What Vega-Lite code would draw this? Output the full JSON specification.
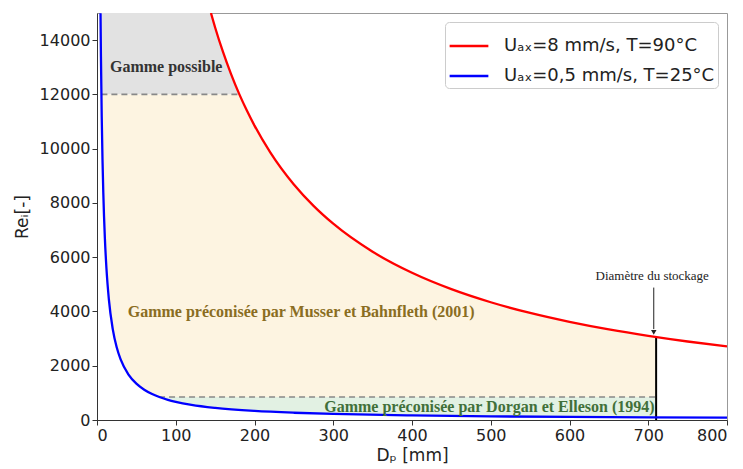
{
  "$schema": "https://vega.github.io/schema/vega-lite/v6.json",
  "width": 630,
  "height": 407,
  "autosize": {"type": "none"},
  "padding": {"left": 97, "top": 13, "right": 16, "bottom": 49},
  "background": "white",
  "config": {
    "view": {"stroke": "#999", "strokeWidth": 1},
    "font": "DejaVu Sans",
    "axis": {
      "grid": false,
      "labelFont": "DejaVu Sans",
      "labelFontSize": 16,
      "labelColor": "#222",
      "titleFont": "DejaVu Sans",
      "titleFontSize": 17,
      "titleFontWeight": "normal",
      "titleColor": "#222",
      "tickSize": 5,
      "tickColor": "#333",
      "domainColor": "#333"
    },
    "legend": {
      "orient": "top-right",
      "offset": 9,
      "strokeColor": "#ccc",
      "fillColor": "white",
      "padding": 3,
      "cornerRadius": 4,
      "labelFont": "DejaVu Sans",
      "labelFontSize": 18,
      "labelColor": "#222",
      "labelLimit": 400,
      "symbolType": "stroke",
      "symbolSize": 1500,
      "symbolStrokeWidth": 2.5,
      "rowPadding": -9,
      "labelOffset": 14
    }
  },
  "datasets": {
    "curves": [
      {"D": 4.47, "Re": 14990, "s": "blue"},
      {"D": 5, "Re": 13400, "s": "blue"},
      {"D": 6, "Re": 11167, "s": "blue"},
      {"D": 7, "Re": 9571, "s": "blue"},
      {"D": 8, "Re": 8375, "s": "blue"},
      {"D": 10, "Re": 6700, "s": "blue"},
      {"D": 12, "Re": 5583, "s": "blue"},
      {"D": 15, "Re": 4467, "s": "blue"},
      {"D": 20, "Re": 3350, "s": "blue"},
      {"D": 25, "Re": 2680, "s": "blue"},
      {"D": 30, "Re": 2233, "s": "blue"},
      {"D": 40, "Re": 1675, "s": "blue"},
      {"D": 50, "Re": 1340, "s": "blue"},
      {"D": 60, "Re": 1117, "s": "blue"},
      {"D": 70, "Re": 957, "s": "blue"},
      {"D": 80, "Re": 838, "s": "blue"},
      {"D": 90, "Re": 744, "s": "blue"},
      {"D": 100, "Re": 670, "s": "blue"},
      {"D": 120, "Re": 558, "s": "blue"},
      {"D": 150, "Re": 447, "s": "blue"},
      {"D": 200, "Re": 335, "s": "blue"},
      {"D": 250, "Re": 268, "s": "blue"},
      {"D": 300, "Re": 223, "s": "blue"},
      {"D": 400, "Re": 168, "s": "blue"},
      {"D": 500, "Re": 134, "s": "blue"},
      {"D": 600, "Re": 112, "s": "blue"},
      {"D": 700, "Re": 96, "s": "blue"},
      {"D": 800, "Re": 84, "s": "blue"},
      {"D": 144.7, "Re": 15000, "s": "red"},
      {"D": 150, "Re": 14467, "s": "red"},
      {"D": 160, "Re": 13563, "s": "red"},
      {"D": 170, "Re": 12765, "s": "red"},
      {"D": 180.8, "Re": 12000, "s": "red"},
      {"D": 190, "Re": 11421, "s": "red"},
      {"D": 200, "Re": 10850, "s": "red"},
      {"D": 220, "Re": 9864, "s": "red"},
      {"D": 250, "Re": 8680, "s": "red"},
      {"D": 275, "Re": 7891, "s": "red"},
      {"D": 300, "Re": 7233, "s": "red"},
      {"D": 350, "Re": 6200, "s": "red"},
      {"D": 400, "Re": 5425, "s": "red"},
      {"D": 450, "Re": 4822, "s": "red"},
      {"D": 500, "Re": 4340, "s": "red"},
      {"D": 550, "Re": 3945, "s": "red"},
      {"D": 600, "Re": 3617, "s": "red"},
      {"D": 650, "Re": 3338, "s": "red"},
      {"D": 700, "Re": 3100, "s": "red"},
      {"D": 750, "Re": 2893, "s": "red"},
      {"D": 800, "Re": 2713, "s": "red"}
    ],
    "gray": [
      {"D": 4.47, "lo": 14990, "hi": 15000},
      {"D": 5, "lo": 13400, "hi": 15000},
      {"D": 5.58, "lo": 12000, "hi": 15000},
      {"D": 144.7, "lo": 12000, "hi": 15000},
      {"D": 150, "lo": 12000, "hi": 14467},
      {"D": 160, "lo": 12000, "hi": 13563},
      {"D": 170, "lo": 12000, "hi": 12765},
      {"D": 180.8, "lo": 12000, "hi": 12000}
    ],
    "beige": [
      {"D": 5.58, "lo": 12000, "hi": 12000},
      {"D": 6, "lo": 11167, "hi": 12000},
      {"D": 7, "lo": 9571, "hi": 12000},
      {"D": 8, "lo": 8375, "hi": 12000},
      {"D": 10, "lo": 6700, "hi": 12000},
      {"D": 12, "lo": 5583, "hi": 12000},
      {"D": 15, "lo": 4467, "hi": 12000},
      {"D": 20, "lo": 3350, "hi": 12000},
      {"D": 25, "lo": 2680, "hi": 12000},
      {"D": 30, "lo": 2233, "hi": 12000},
      {"D": 40, "lo": 1675, "hi": 12000},
      {"D": 50, "lo": 1340, "hi": 12000},
      {"D": 60, "lo": 1117, "hi": 12000},
      {"D": 70, "lo": 957, "hi": 12000},
      {"D": 78.8, "lo": 850, "hi": 12000},
      {"D": 180.8, "lo": 850, "hi": 12000},
      {"D": 190, "lo": 850, "hi": 11421},
      {"D": 200, "lo": 850, "hi": 10850},
      {"D": 220, "lo": 850, "hi": 9864},
      {"D": 250, "lo": 850, "hi": 8680},
      {"D": 275, "lo": 850, "hi": 7891},
      {"D": 300, "lo": 850, "hi": 7233},
      {"D": 350, "lo": 850, "hi": 6200},
      {"D": 400, "lo": 850, "hi": 5425},
      {"D": 450, "lo": 850, "hi": 4822},
      {"D": 500, "lo": 850, "hi": 4340},
      {"D": 550, "lo": 850, "hi": 3945},
      {"D": 600, "lo": 850, "hi": 3617},
      {"D": 650, "lo": 850, "hi": 3338},
      {"D": 700, "lo": 850, "hi": 3100},
      {"D": 710, "lo": 850, "hi": 3056}
    ],
    "green": [
      {"D": 78.8, "lo": 850, "hi": 850},
      {"D": 80, "lo": 838, "hi": 850},
      {"D": 90, "lo": 744, "hi": 850},
      {"D": 100, "lo": 670, "hi": 850},
      {"D": 120, "lo": 558, "hi": 850},
      {"D": 150, "lo": 447, "hi": 850},
      {"D": 200, "lo": 335, "hi": 850},
      {"D": 250, "lo": 268, "hi": 850},
      {"D": 300, "lo": 223, "hi": 850},
      {"D": 400, "lo": 168, "hi": 850},
      {"D": 500, "lo": 134, "hi": 850},
      {"D": 600, "lo": 112, "hi": 850},
      {"D": 700, "lo": 96, "hi": 850},
      {"D": 710, "lo": 94, "hi": 850}
    ],
    "dashes": [
      {"x1": 5.58, "x2": 180.8, "y": 12000},
      {"x1": 78.8, "x2": 710, "y": 850}
    ],
    "vline": [{"x": 710, "y1": 0, "y2": 3056}],
    "arrow": [{"x": 707, "y1": 4880, "y2": 3350, "tip": 3230}],
    "lab_possible": [{"x": 16.5, "y": 13000, "t": "Gamme possible"}],
    "lab_musser": [{"x": 39, "y": 3980, "t": "Gamme préconisée par Musser et Bahnfleth (2001)"}],
    "lab_dorgan": [{"x": 708, "y": 480, "t": "Gamme préconisée par Dorgan et Elleson (1994)"}],
    "note": [{"x": 705, "y": 5300, "t": "Diamètre du stockage"}]
  },
  "layer": [
    {
      "data": {"name": "gray"},
      "mark": {"type": "area", "color": "#e2e2e2", "opacity": 1},
      "encoding": {
        "x": {"field": "D", "type": "quantitative", "scale": {"domain": [0, 800], "nice": false},
              "axis": {"title": "Dₚ [mm]", "values": [0, 100, 200, 300, 400, 500, 600, 700, 800], "format": "d", "titlePadding": 4}},
        "y": {"field": "lo", "type": "quantitative", "scale": {"domain": [0, 15000], "nice": false},
              "axis": {"title": "Reᵢ[-]", "values": [0, 2000, 4000, 6000, 8000, 10000, 12000, 14000], "format": "d", "titlePadding": 8}},
        "y2": {"field": "hi"}
      }
    },
    {
      "data": {"name": "beige"},
      "mark": {"type": "area", "color": "#fdf4e1", "opacity": 1},
      "encoding": {
        "x": {"field": "D", "type": "quantitative"},
        "y": {"field": "lo", "type": "quantitative"},
        "y2": {"field": "hi"}
      }
    },
    {
      "data": {"name": "green"},
      "mark": {"type": "area", "color": "#e2f1e3", "opacity": 1},
      "encoding": {
        "x": {"field": "D", "type": "quantitative"},
        "y": {"field": "lo", "type": "quantitative"},
        "y2": {"field": "hi"}
      }
    },
    {
      "data": {"name": "dashes"},
      "mark": {"type": "rule", "color": "#888", "strokeWidth": 1.6, "strokeDash": [6, 4]},
      "encoding": {
        "x": {"field": "x1", "type": "quantitative"},
        "x2": {"field": "x2"},
        "y": {"field": "y", "type": "quantitative"}
      }
    },
    {
      "data": {"name": "vline"},
      "mark": {"type": "rule", "color": "black", "strokeWidth": 2},
      "encoding": {
        "x": {"field": "x", "type": "quantitative"},
        "y": {"field": "y1", "type": "quantitative"},
        "y2": {"field": "y2"}
      }
    },
    {
      "data": {"name": "curves"},
      "mark": {"type": "line", "strokeWidth": 2.3, "interpolate": "monotone", "clip": true},
      "encoding": {
        "x": {"field": "D", "type": "quantitative"},
        "y": {"field": "Re", "type": "quantitative"},
        "color": {
          "field": "s", "type": "nominal",
          "scale": {"domain": ["red", "blue"], "range": ["#ff0000", "#0000ff"]},
          "legend": {"title": null, "labelExpr": "datum.value == 'red' ? 'Uₐₓ=8 mm/s, T=90°C' : 'Uₐₓ=0,5 mm/s, T=25°C'"}
        }
      }
    },
    {
      "data": {"name": "lab_possible"},
      "mark": {"type": "text", "font": "Liberation Serif", "fontWeight": "bold", "fontSize": 16, "align": "left", "baseline": "middle", "color": "#333333"},
      "encoding": {
        "x": {"field": "x", "type": "quantitative"},
        "y": {"field": "y", "type": "quantitative"},
        "text": {"field": "t"}
      }
    },
    {
      "data": {"name": "lab_musser"},
      "mark": {"type": "text", "font": "Liberation Serif", "fontWeight": "bold", "fontSize": 16, "align": "left", "baseline": "middle", "color": "#8a6d22"},
      "encoding": {
        "x": {"field": "x", "type": "quantitative"},
        "y": {"field": "y", "type": "quantitative"},
        "text": {"field": "t"}
      }
    },
    {
      "data": {"name": "lab_dorgan"},
      "mark": {"type": "text", "font": "Liberation Serif", "fontWeight": "bold", "fontSize": 16, "align": "right", "baseline": "middle", "color": "#41703a"},
      "encoding": {
        "x": {"field": "x", "type": "quantitative"},
        "y": {"field": "y", "type": "quantitative"},
        "text": {"field": "t"}
      }
    },
    {
      "data": {"name": "note"},
      "mark": {"type": "text", "font": "Liberation Serif", "fontSize": 13, "color": "#222", "align": "center", "baseline": "middle"},
      "encoding": {
        "x": {"field": "x", "type": "quantitative"},
        "y": {"field": "y", "type": "quantitative"},
        "text": {"field": "t"}
      }
    },
    {
      "data": {"name": "arrow"},
      "mark": {"type": "rule", "color": "#222", "strokeWidth": 1},
      "encoding": {
        "x": {"field": "x", "type": "quantitative"},
        "y": {"field": "y1", "type": "quantitative"},
        "y2": {"field": "y2"}
      }
    },
    {
      "data": {"name": "arrow"},
      "mark": {"type": "point", "shape": "triangle-down", "filled": true, "color": "#222", "size": 30, "opacity": 1},
      "encoding": {
        "x": {"field": "x", "type": "quantitative"},
        "y": {"field": "tip", "type": "quantitative"}
      }
    }
  ]
}
